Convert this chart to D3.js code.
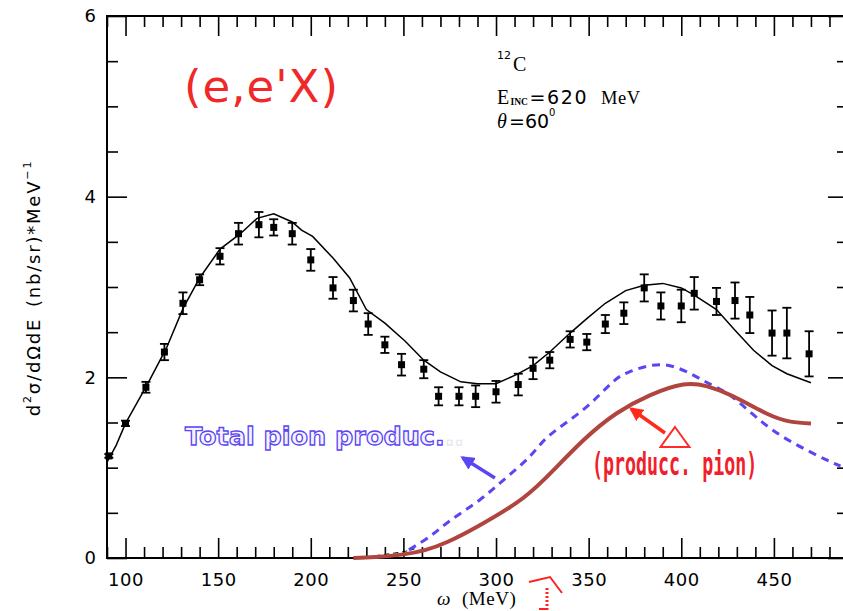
<!DOCTYPE html>
<html>
<head>
<meta charset="utf-8">
<script src="https://cdn.jsdelivr.net/npm/d3@7"></script>
<style>
  body { margin: 0; background: #fff; }
  svg { display: block; }
</style>
</head>
<body>
<div id="chart"></div>
<script>
// data
let dataW = [91, 100, 111, 121, 131, 140, 151, 161, 172, 180, 190, 200, 212, 223, 231, 240, 249, 261, 269, 280,
  289, 300, 312, 320, 329, 340, 349, 359, 369, 380, 389, 400, 407, 419, 429, 437, 449, 457, 469];
let dataV = [1.13, 1.49, 1.89, 2.28, 2.82, 3.08, 3.34, 3.59, 3.69, 3.66, 3.59, 3.30, 2.99, 2.85, 2.59, 2.36, 2.14, 2.09, 1.79, 1.79,
  1.79, 1.84, 1.92, 2.10, 2.19, 2.42, 2.39, 2.59, 2.71, 2.99, 2.79, 2.79, 2.93, 2.84, 2.85, 2.69, 2.49, 2.49, 2.26];
let dataErr = [0.02, 0.03, 0.06, 0.09, 0.12, 0.06, 0.09, 0.12, 0.14, 0.09, 0.12, 0.12, 0.12, 0.12, 0.12, 0.09, 0.12, 0.10, 0.10, 0.10,
  0.12, 0.12, 0.12, 0.12, 0.09, 0.09, 0.09, 0.10, 0.12, 0.15, 0.15, 0.18, 0.18, 0.15, 0.20, 0.20, 0.25, 0.28, 0.25];

// total (black solid)
let totalW = [90, 95, 100, 112, 122, 131, 140, 151, 162, 171, 180, 190, 195, 201, 212, 221, 230, 240, 251, 261,
  270, 281, 290, 300, 311, 320, 329, 340, 349, 359, 370, 380, 390, 400, 407, 419, 429, 439, 449, 457, 470];
let totalV = [1.06, 1.25, 1.49, 1.93, 2.32, 2.76, 3.10, 3.42, 3.59, 3.76, 3.81, 3.72, 3.63, 3.56, 3.32, 3.10, 2.75, 2.60, 2.40, 2.19,
  2.06, 1.95, 1.93, 1.93, 2.03, 2.13, 2.28, 2.49, 2.65, 2.82, 2.96, 3.02, 3.04, 2.99, 2.91, 2.75, 2.52, 2.30, 2.13, 2.04, 1.94];

// total pion production (blue dashed)
let pionW = [253, 265, 275, 291, 305, 318, 329, 347, 362, 372, 389, 405, 415, 425, 437, 455, 479, 486];
let pionV = [0.09, 0.25, 0.41, 0.64, 0.88, 1.12, 1.36, 1.64, 1.93, 2.06, 2.14, 2.04, 1.93, 1.82, 1.62, 1.34, 1.08, 1.02];

// short black dashed piece under the blue one
let lowW = [230, 240, 250, 256];
let lowV = [0.01, 0.04, 0.07, 0.10];

// producc. pion (brown solid)
let prodW = [223, 235, 250, 262, 274, 291, 311, 326, 347, 365, 383, 401, 414, 428, 446, 459, 470];
let prodV = [0.00, 0.01, 0.04, 0.09, 0.18, 0.36, 0.61, 0.87, 1.30, 1.60, 1.80, 1.92, 1.90, 1.79, 1.60, 1.51, 1.49];

let xMajor = [100, 150, 200, 250, 300, 350, 400, 450];
let yMajor = [0, 2, 4, 6];

let W = 843, H = 611;
let svg = d3.select("#chart").append("svg")
  .attr("width", W)
  .attr("height", H);

let x = d3.scaleLinear().domain([90, 490]).range([107, 848]);
let y = d3.scaleLinear().domain([0, 6]).range([558, 16]);

let xMinor = d3.range(90, 491, 10).filter(d => xMajor.indexOf(d) < 0);
let yMinor = d3.range(0, 6.01, 0.5).filter(d => yMajor.indexOf(d) < 0);

// axes with inward ticks
function styleAxis(g) {
  g.selectAll("path.domain").remove();
  g.selectAll("line").attr("stroke", "#000").attr("stroke-width", 1.6);
}
svg.append("g").attr("transform", "translate(0,558)")
  .call(d3.axisBottom(x).tickValues(xMajor).tickSizeInner(-20).tickSizeOuter(0).tickPadding(15))
  .call(styleAxis)
  .call(g => g.selectAll("text").attr("font-family", "DejaVu Sans").attr("font-size", 18)
    .attr("letter-spacing", 0.5).attr("fill", "#000"));
svg.append("g").attr("transform", "translate(0,558)")
  .call(d3.axisBottom(x).tickValues(xMinor).tickSizeInner(-11).tickSizeOuter(0).tickFormat(""))
  .call(styleAxis);
svg.append("g").attr("transform", "translate(0,16)")
  .call(d3.axisTop(x).tickValues(xMajor).tickSizeInner(-20).tickSizeOuter(0).tickFormat(""))
  .call(styleAxis);
svg.append("g").attr("transform", "translate(0,16)")
  .call(d3.axisTop(x).tickValues(xMinor).tickSizeInner(-11).tickSizeOuter(0).tickFormat(""))
  .call(styleAxis);
svg.append("g").attr("transform", "translate(107,0)")
  .call(d3.axisLeft(y).tickValues(yMajor).tickSizeInner(-20).tickSizeOuter(0).tickPadding(11).tickFormat(d3.format("d")))
  .call(styleAxis)
  .call(g => g.selectAll("text").attr("font-family", "DejaVu Sans").attr("font-size", 18).attr("fill", "#000"));
svg.append("g").attr("transform", "translate(107,0)")
  .call(d3.axisLeft(y).tickValues(yMinor).tickSizeInner(-11).tickSizeOuter(0).tickFormat(""))
  .call(styleAxis);
svg.append("g").attr("transform", "translate(848,0)")
  .call(d3.axisRight(y).tickValues(yMajor).tickSizeInner(-20).tickSizeOuter(0).tickFormat(""))
  .call(styleAxis);
svg.append("g").attr("transform", "translate(848,0)")
  .call(d3.axisRight(y).tickValues(yMinor).tickSizeInner(-11).tickSizeOuter(0).tickFormat(""))
  .call(styleAxis);

// frame
svg.append("rect")
  .attr("x", x(90)).attr("y", y(6))
  .attr("width", x(490) - x(90)).attr("height", y(0) - y(6))
  .attr("fill", "none").attr("stroke", "#000").attr("stroke-width", 2);

// curves
let line = d3.line().x(d => x(d[0])).y(d => y(d[1])).curve(d3.curveLinear);
let smooth = d3.line().x(d => x(d[0])).y(d => y(d[1])).curve(d3.curveNatural);

svg.append("path")
  .attr("d", line(d3.zip(totalW, totalV)))
  .attr("fill", "none").attr("stroke", "#000").attr("stroke-width", 1.5);

svg.append("path")
  .attr("d", smooth(d3.zip(lowW, lowV)))
  .attr("fill", "none").attr("stroke", "#000").attr("stroke-width", 1)
  .attr("stroke-dasharray", "5,4");

svg.append("path")
  .attr("d", smooth(d3.zip(pionW, pionV)))
  .attr("fill", "none").attr("stroke", "#5a46f2").attr("stroke-width", 3)
  .attr("stroke-dasharray", "8,6");

svg.append("path")
  .attr("d", smooth(d3.zip(prodW, prodV)))
  .attr("fill", "none").attr("stroke", "#b0443e").attr("stroke-width", 4);

// data points with error bars
let pts = svg.append("g").selectAll("g").data(d3.zip(dataW, dataV, dataErr)).join("g");
pts.append("line")
  .attr("x1", d => x(d[0])).attr("x2", d => x(d[0]))
  .attr("y1", d => y(d[1] - d[2])).attr("y2", d => y(d[1] + d[2]))
  .attr("stroke", "#000").attr("stroke-width", 1.8);
pts.append("line")
  .attr("x1", d => x(d[0]) - 4.5).attr("x2", d => x(d[0]) + 4.5)
  .attr("y1", d => y(d[1] - d[2])).attr("y2", d => y(d[1] - d[2]))
  .attr("stroke", "#000").attr("stroke-width", 1.8);
pts.append("line")
  .attr("x1", d => x(d[0]) - 4.5).attr("x2", d => x(d[0]) + 4.5)
  .attr("y1", d => y(d[1] + d[2])).attr("y2", d => y(d[1] + d[2]))
  .attr("stroke", "#000").attr("stroke-width", 1.8);
pts.append("rect")
  .attr("x", d => x(d[0]) - 3.5).attr("y", d => y(d[1]) - 3.5)
  .attr("width", 7).attr("height", 7).attr("fill", "#000");

// arrow markers
let defs = svg.append("defs");
[["arrBlue", "#5a46f2"], ["arrRed", "#ff2a1a"]].forEach(function (m) {
  defs.append("marker")
    .attr("id", m[0]).attr("viewBox", "0 0 10 10").attr("refX", 8).attr("refY", 5)
    .attr("markerWidth", 4).attr("markerHeight", 4).attr("orient", "auto")
    .append("path").attr("d", "M0,0 L10,5 L0,10 z").attr("fill", m[1]);
});

svg.append("line")
  .attr("x1", x(299.4)).attr("y1", y(0.886)).attr("x2", x(282)).attr("y2", y(1.11))
  .attr("stroke", "#5a46f2").attr("stroke-width", 3.5).attr("marker-end", "url(#arrBlue)");
svg.append("line")
  .attr("x1", x(391.2)).attr("y1", y(1.384)).attr("x2", x(373)).attr("y2", y(1.65))
  .attr("stroke", "#ff2a1a").attr("stroke-width", 3.5).attr("marker-end", "url(#arrRed)");

// triangle
svg.append("path")
  .attr("d", "M" + x(396.6) + "," + y(1.45) + "L" + x(404.4) + "," + y(1.23) + "L" + x(388.8) + "," + y(1.23) + "Z")
  .attr("fill", "#fff").attr("stroke", "#ff2a2a").attr("stroke-width", 2);

// red fragments at the bottom
svg.append("path").attr("d", "M529,582 L550,577 L562,593")
  .attr("fill", "none").attr("stroke", "#ff2020").attr("stroke-width", 2);
svg.append("line").attr("x1", 547).attr("y1", 588).attr("x2", 547).attr("y2", 611)
  .attr("stroke", "#ff2020").attr("stroke-width", 3).attr("stroke-dasharray", "2,2");
svg.append("line").attr("x1", 539).attr("y1", 609).attr("x2", 547).attr("y2", 609)
  .attr("stroke", "#ff2020").attr("stroke-width", 2);

// texts
svg.append("text")
  .attr("x", 184).attr("y", 102)
  .attr("font-family", "DejaVu Sans").attr("font-size", 45).attr("letter-spacing", 1)
  .attr("fill", "#f02828")
  .text("(e,e'X)");

let ann = svg.append("g").attr("font-family", "Liberation Serif").attr("fill", "#000");
ann.append("text").attr("x", 497).attr("y", 59)
  .attr("font-family", "DejaVu Sans").attr("font-size", 11).text("12");
ann.append("text").attr("x", 513).attr("y", 71).attr("font-size", 20).text("C");

ann.append("text").attr("x", 497).attr("y", 104).attr("font-size", 20).text("E");
ann.append("text").attr("x", 510.5).attr("y", 105).attr("font-size", 9.5).attr("font-weight", "bold").text("INC");
ann.append("text").attr("x", 529.5).attr("y", 104).attr("font-family", "DejaVu Sans").attr("font-size", 19)
  .attr("letter-spacing", 1.6).text("=620");
ann.append("text").attr("x", 601).attr("y", 104).attr("font-size", 18.5).attr("letter-spacing", 0.5).text("MeV");

ann.append("text").attr("x", 497).attr("y", 128).attr("font-size", 20).attr("font-style", "italic").text("\u03b8");
ann.append("text").attr("x", 509).attr("y", 128).attr("font-family", "DejaVu Sans").attr("font-size", 19)
  .text("=60");
ann.append("text").attr("x", 549).attr("y", 116).attr("font-family", "DejaVu Sans").attr("font-size", 10).text("0");

// axis titles
let yl = svg.append("text")
  .attr("transform", "translate(40,288) rotate(-90)")
  .attr("text-anchor", "middle")
  .attr("font-family", "DejaVu Sans").attr("font-size", 18).attr("letter-spacing", 1.8)
  .attr("fill", "#000");
yl.append("tspan").text("d");
yl.append("tspan").attr("font-size", 11).attr("dy", -9).text("2");
yl.append("tspan").attr("dy", 9).text("\u03c3/d\u03a9dE\u2002(nb/sr)*MeV");
yl.append("tspan").attr("font-size", 11).attr("dy", -9).text("\u22121");

let xl = svg.append("text")
  .attr("y", 605)
  .attr("font-family", "Liberation Serif").attr("font-size", 19).attr("fill", "#000");
xl.append("tspan").attr("x", 437).attr("font-style", "italic").text("\u03c9");
xl.append("tspan").attr("x", 462).attr("letter-spacing", 0.5).text("(MeV)");

// labels of the two pion curves
let bl = svg.append("text")
  .attr("x", 185).attr("y", 445)
  .attr("font-family", "DejaVu Sans").attr("font-weight", "bold").attr("font-size", 25.5)
  .attr("fill", "#f4f2ff").attr("stroke", "#5a46f2").attr("stroke-width", 1.3);
bl.append("tspan").text("Total pion produc.");
bl.append("tspan").attr("stroke", "#e8e8f0").attr("fill", "#fff").text("..");

svg.append("text")
  .attr("transform", "translate(592,475) scale(1,1.7)")
  .attr("font-family", "DejaVu Sans Mono").attr("font-weight", "bold").attr("font-size", 18.3)
  .attr("fill", "#f0202a")
  .text("(producc. pion)");
</script>
</body>
</html>
